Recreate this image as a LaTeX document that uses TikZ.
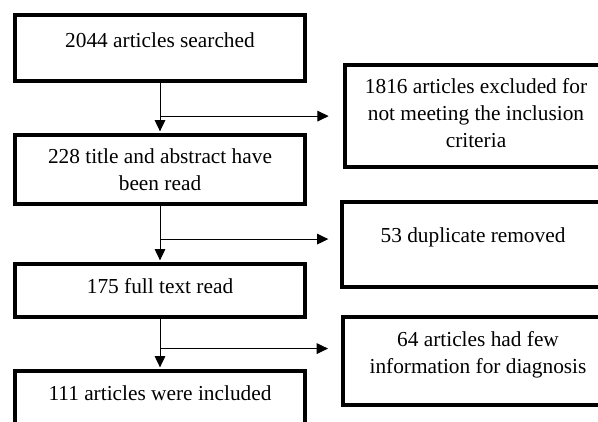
\documentclass[tikz,border=0pt]{standalone}
\usepackage{fontspec}
\setmainfont{Liberation Serif}
\usetikzlibrary{arrows.meta,calc}
\begin{document}
\begin{tikzpicture}[x=0.75pt,y=-0.75pt,
  box/.style={draw=black,line width=2.5pt,rectangle,inner sep=0pt},
  txt/.style={align=center,inner sep=0pt,font=\fontsize{16}{20.25}\selectfont},
  arr/.style={line width=0.75pt,-{Triangle[length=8.5pt,width=8pt]}}]
\useasboundingbox (0,0) rectangle (598,421);
% left boxes
\node[box,minimum width=217.5pt,minimum height=49.5pt]  (b1) at (160,48) {};
\node[box,minimum width=217.5pt,minimum height=51.75pt] (b2) at (160,169.5) {};
\node[box,minimum width=217.5pt,minimum height=39.75pt] (b3) at (160,290.5) {};
\node[box,minimum width=217.5pt,minimum height=44.25pt] (b4) at (160,400.5) {};
% right boxes
\node[box,minimum width=202.5pt,minimum height=76.3pt]  (r1) at (480,116) {};
\node[box,minimum width=204.75pt,minimum height=63.75pt] (r2) at (478.5,244.5) {};
\node[box,minimum width=204pt,minimum height=66.2pt]   (r3) at (479,361) {};
% texts
\node[txt] (t1) at (160,40.5) {2044 articles searched};
\node[txt] (t2) at (160,170) {228 title and abstract have\\been read};
\node[txt] (t3) at (160,286) {175 full text read};
\node[txt] (t4) at (160,393) {111 articles were included};
\node[txt] (s1) at (476,113) {1816 articles excluded for\\not meeting the inclusion\\criteria};
\node[txt] (s2) at (473,237) {53 duplicate removed};
\node[txt] (s3) at (478,355) {64 articles had few\\information for diagnosis};
% connectors
\draw[arr,shorten >=1.5pt] (b1.south) -- (b2.north);
\draw[arr,shorten >=1.5pt] (b2.south) -- (b3.north);
\draw[arr,shorten >=1.5pt] (b3.south) -- (b4.north);
\coordinate (m1) at ($(b1.south)!0.66!(b2.north)$);
\coordinate (m2) at ($(b2.south)!0.59!(b3.north)$);
\coordinate (m3) at ($(b3.south)!0.59!(b4.north)$);
\draw[arr,shorten >=11pt] (m1) -- (m1 -| r1.west);
\draw[arr,shorten >=9pt] (m2) -- (m2 -| r2.west);
\draw[arr,shorten >=10pt] (m3) -- (m3 -| r3.west);
\end{tikzpicture}
\end{document}
